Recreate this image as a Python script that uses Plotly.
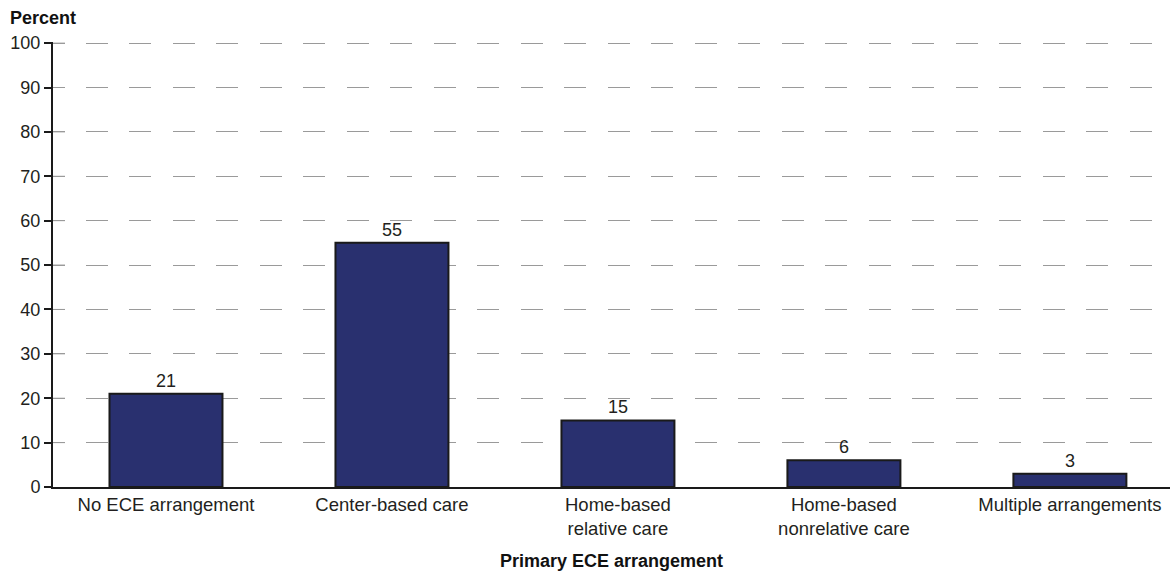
import plotly.graph_objects as go

# Primary early care and education (ECE) arrangement, percent of children
categories = [
    "No ECE arrangement",
    "Center-based care",
    "Home-based<br>relative care",
    "Home-based<br>nonrelative care",
    "Multiple arrangements",
]
percents = [21, 55, 15, 6, 3]
y_ticks = [0, 10, 20, 30, 40, 50, 60, 70, 80, 90, 100]

FONT = "Liberation Sans, Arial, sans-serif"
TEXT = "#231f20"
BAR_COLOR = "#29306f"
GRID = "#9a9a9a"

# Long dash pattern for the gridlines: a short lead-in dash, then ~43.5px cycles
pattern = [12, 21]
for i in range(30):
    pattern += [22, 21 if i % 2 == 0 else 22]
grid_dash = ",".join(f"{v}px" for v in pattern)

fig = go.Figure(
    go.Bar(
        x=list(range(len(categories))),
        y=percents,
        width=0.5,
        marker=dict(color=BAR_COLOR, line=dict(color="#1a1a1a", width=2)),
        text=[str(v) for v in percents],
        textposition="outside",
        textfont=dict(family=FONT, size=18, color=TEXT),
        cliponaxis=False,
        hoverinfo="skip",
    )
)

fig.update_layout(
    width=1170,
    height=571,
    margin=dict(l=53, r=0, t=42, b=84),
    paper_bgcolor="white",
    plot_bgcolor="white",
    showlegend=False,
    font=dict(family=FONT, size=18, color=TEXT),
    bargap=0.5,
)

fig.update_xaxes(
    range=[-0.5, 4.443],
    tickmode="array",
    tickvals=list(range(len(categories))),
    ticktext=categories,
    ticks="",
    showline=True,
    linecolor="#1a1a1a",
    linewidth=2,
    showgrid=False,
    zeroline=False,
    tickfont=dict(family=FONT, size=18.5, color=TEXT),
    title=dict(
        text="<b>Primary ECE arrangement</b>",
        font=dict(family=FONT, size=18, color="#111111"),
        standoff=16,
    ),
)

fig.update_yaxes(
    range=[0, 100.25],
    tickmode="array",
    tickvals=y_ticks,
    ticks="outside",
    ticklen=7,
    tickwidth=1.5,
    tickcolor="#1a1a1a",
    showline=True,
    linecolor="#1a1a1a",
    linewidth=2,
    showgrid=True,
    gridcolor=GRID,
    gridwidth=1,
    griddash=grid_dash,
    zeroline=False,
    tickfont=dict(family=FONT, size=18, color=TEXT),
)

# Short grey stubs where each gridline meets the value axis
for v in y_ticks[1:]:
    fig.add_shape(
        type="line",
        xref="paper",
        xsizemode="pixel",
        xanchor=0,
        x0=0,
        x1=12,
        yref="y",
        y0=v,
        y1=v,
        line=dict(color=GRID, width=1),
        layer="below",
    )

fig.add_annotation(
    text="<b>Percent</b>",
    xref="paper",
    yref="paper",
    x=-45 / 1117,
    y=1.0,
    xanchor="left",
    yanchor="bottom",
    yshift=12,
    showarrow=False,
    font=dict(family=FONT, size=18, color="#111111"),
)

fig.write_html("out.html")
